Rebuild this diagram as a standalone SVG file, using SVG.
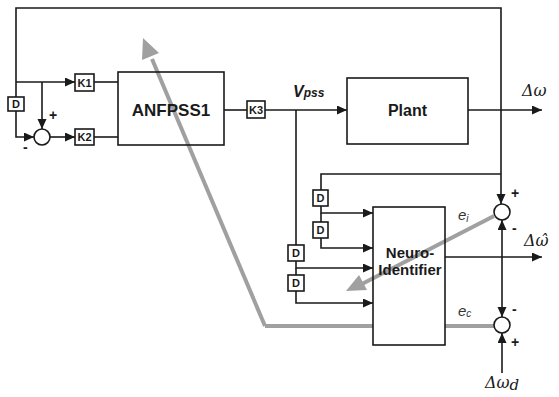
<svg xmlns="http://www.w3.org/2000/svg" width="559" height="397" viewBox="0 0 559 397">
<style>
.w{fill:none;stroke:#1a1a1a;stroke-width:1.6}
.a{marker-end:url(#ah)}
.b{fill:#fff;stroke:#1a1a1a;stroke-width:1.6}
.o{fill:none;stroke:#1a1a1a;stroke-width:1.6}
.k{font-family:"Liberation Sans",Arial,sans-serif;font-weight:bold;font-size:11px;fill:#1a1a1a;text-anchor:middle}
.t{font-family:"Liberation Sans",Arial,sans-serif;font-weight:bold;fill:#1a1a1a;text-anchor:middle}
.s{font-family:"Liberation Sans",Arial,sans-serif;font-weight:bold;font-size:14px;fill:#1a1a1a}
.g{fill:none;stroke:#a0a0a0;stroke-width:4}
.gf{fill:#a0a0a0}
.gi{font-family:"Liberation Sans",Arial,sans-serif;font-style:italic;fill:#333}
.m{font-family:"DejaVu Serif","Liberation Serif",serif;font-style:italic;font-size:16px;fill:#1a1a1a}
</style>
<defs>
<marker id="ah" markerUnits="userSpaceOnUse" markerWidth="10" markerHeight="10" refX="10" refY="4.5" orient="auto">
<path d="M0,0 L10,4.5 L0,9 z" fill="#1a1a1a"/>
</marker>
</defs>
<g id="connectors">
<polyline class="w" points="16,97 16,8 501,8 501,204" marker-end="url(#ah)"/>
<line class="w a" x1="16" y1="82" x2="75" y2="82"/>
<line class="w a" x1="42" y1="82" x2="42" y2="129"/>
<polyline class="w a" points="16,110 16,137 34,137"/>
<line class="w a" x1="50" y1="137" x2="75" y2="137"/>
<line class="w" x1="94" y1="82" x2="118" y2="82"/>
<line class="w" x1="94" y1="137" x2="118" y2="137"/>
<line class="w" x1="224" y1="110" x2="247" y2="110"/>
<line class="w a" x1="265" y1="110" x2="347" y2="110"/>
<line class="w a" x1="468" y1="110" x2="542" y2="110"/>
<line class="w" x1="296" y1="110" x2="296" y2="245"/>
<polyline class="w a" points="296,261 296,268 373,268"/>
<polyline class="w a" points="296,291 296,303 373,303"/>
<line class="w" x1="296" y1="268" x2="296" y2="275"/>
<polyline class="w" points="501,174 321,174 321,190"/>
<polyline class="w a" points="321,206 321,213 373,213"/>
<line class="w" x1="321" y1="213" x2="321" y2="222"/>
<polyline class="w a" points="321,238 321,248 373,248"/>
<line class="w a" x1="445" y1="257" x2="542" y2="257"/>
<line class="w a" x1="502" y1="257" x2="502" y2="220"/>
<line class="w a" x1="502" y1="257" x2="502" y2="317"/>
<line class="w a" x1="502" y1="373" x2="502" y2="333"/>
<line class="g" x1="494" y1="326" x2="445" y2="326"/>
<line class="g" x1="373" y1="326" x2="265" y2="326"/>
<line class="g" x1="265" y1="326" x2="152" y2="59"/>
<polygon class="gf" points="143,38 159,53 142,60"/>
<line class="g" x1="494" y1="216" x2="360" y2="285"/>
<polygon class="gf" points="346,291 359,275 367,290"/>
</g>
<g id="sum0"><circle class="b" cx="42" cy="137" r="8"/><text class="s" x="49" y="120">+</text><text class="s" x="23" y="152">-</text></g>
<g id="d0"><rect class="b" x="8" y="97" width="16" height="14"/><text class="k" x="16" y="108">D</text></g>
<g id="k1"><rect class="b" x="75" y="74" width="19" height="17"/><text class="k" x="84.5" y="86.5">K1</text></g>
<g id="k2"><rect class="b" x="75" y="129" width="19" height="16"/><text class="k" x="84.5" y="141">K2</text></g>
<g id="anfpss1"><rect class="o" x="118" y="72" width="106" height="73"/><text class="t" x="171" y="116" font-size="17">ANFPSS1</text></g>
<g id="k3"><rect class="b" x="247" y="101" width="18" height="17"/><text class="k" x="256" y="113.5">K3</text></g>
<g id="vpss"><text font-family="Liberation Sans,Arial,sans-serif" font-weight="bold" font-style="italic" fill="#1a1a1a" x="293" y="97"><tspan font-size="16">V</tspan><tspan font-size="12">pss</tspan></text></g>
<g id="plant"><rect class="b" x="347" y="78" width="121" height="66"/><text class="t" x="407.5" y="116" font-size="16">Plant</text></g>
<g id="dw"><text class="m" x="522" y="96">Δω</text></g>
<g id="d1"><rect class="b" x="313" y="190" width="15" height="16"/><text class="k" x="320.5" y="202">D</text></g>
<g id="d2"><rect class="b" x="313" y="222" width="15" height="16"/><text class="k" x="320.5" y="234">D</text></g>
<g id="d3"><rect class="b" x="288" y="245" width="16" height="16"/><text class="k" x="296" y="257">D</text></g>
<g id="d4"><rect class="b" x="288" y="275" width="16" height="16"/><text class="k" x="296" y="287">D</text></g>
<g id="neuro"><rect class="o" x="373" y="207" width="72" height="138"/><text class="t" x="410" y="258" font-size="15">Neuro-</text><text class="t" x="410" y="275" font-size="15">Identifier</text></g>
<g id="sum1"><circle class="b" cx="502" cy="212" r="8"/><text class="s" x="511" y="198">+</text><text class="s" x="512" y="233">-</text></g>
<g id="sum2"><circle class="b" cx="502" cy="325" r="8"/><text class="s" x="512" y="314">-</text><text class="s" x="511" y="347">+</text></g>
<g id="ei"><text class="gi" x="458" y="220" font-size="15">e<tspan font-size="10" dy="2">i</tspan></text></g>
<g id="ec"><text class="gi" x="458" y="316" font-size="15">e<tspan font-size="10" dy="1">c</tspan></text></g>
<g id="dwhat"><text class="m" x="524" y="246">Δω̂</text></g>
<g id="dwd"><text class="m" x="485" y="388">Δω<tspan font-size="15" dy="2">d</tspan></text></g>
</svg>
